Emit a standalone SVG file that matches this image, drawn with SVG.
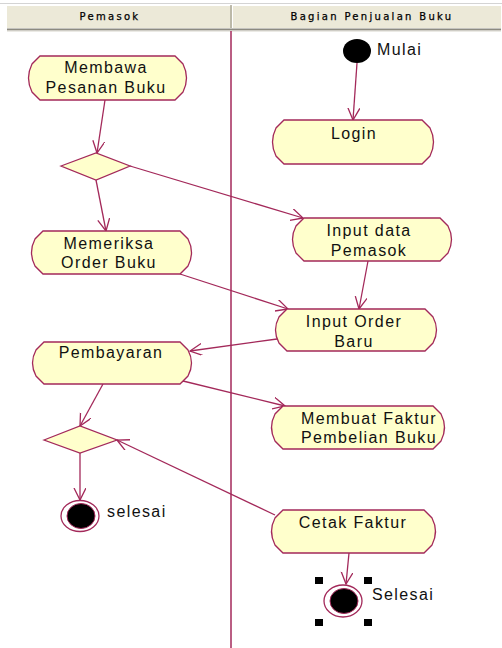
<svg xmlns="http://www.w3.org/2000/svg" width="502" height="648" viewBox="0 0 502 648">
  <style>
    .hdr { fill: #ECE9D8; }
    .hdr-text { font-family: "DejaVu Sans", Verdana, sans-serif; font-size: 10px; letter-spacing: 2.3px; fill: #000; stroke: #000; stroke-width: 0.25; text-anchor: middle; }
    .act { fill: #FFFFCC; stroke: #A3295A; stroke-width: 1.3; }
    .dec { fill: #FFFFCC; stroke: #A3295A; stroke-width: 1.3; }
    .lbl { font-family: "Liberation Sans", Arial, sans-serif; font-size: 16px; letter-spacing: 1.4px; fill: #111; text-anchor: middle; }
    .side { font-family: "Liberation Sans", Arial, sans-serif; font-size: 16px; letter-spacing: 1.4px; fill: #111; }
    .edge { fill: none; stroke: #A3295A; stroke-width: 1.3; marker-end: url(#open); }
    .lane { stroke: #A3295A; stroke-width: 1.5; }
    .handle { fill: #000; }
  </style>
  <defs>
    <marker id="open" markerUnits="userSpaceOnUse" markerWidth="14" markerHeight="14" refX="12" refY="6" orient="auto">
      <path d="M0,0 L12,6 L0,12" fill="none" stroke="#A3295A" stroke-width="1.3"/>
    </marker>
  </defs>

  <rect width="502" height="648" fill="#fff"/>

  <!-- swimlane headers -->
  <g id="lanes">
    <line x1="0" y1="3.5" x2="502" y2="3.5" stroke="#D4D4D4" stroke-width="1"/>
    <rect class="hdr" x="7" y="5" width="494" height="23"/>
    <line x1="7" y1="5.5" x2="501" y2="5.5" stroke="#FFFFFF" stroke-width="1"/>
    <line x1="231" y1="5" x2="231" y2="28" stroke="#ACA899" stroke-width="1.5"/>
    <line x1="232.5" y1="5" x2="232.5" y2="28" stroke="#FFFFFF" stroke-width="1"/>
    <line x1="7" y1="29.5" x2="501" y2="29.5" stroke="#8C8A80" stroke-width="2"/>
    <line x1="7" y1="31" x2="501" y2="31" stroke="#D8D6CC" stroke-width="1"/>
    <text class="hdr-text" x="110" y="20">Pemasok</text>
    <text class="hdr-text" x="372" y="20">Bagian Penjualan Buku</text>
    <line class="lane" x1="231" y1="31" x2="231" y2="648"/>
  </g>

  <!-- connectors -->
  <g id="connectors">
    <path class="edge" d="M357,63 L353,120"/>
    <path class="edge" d="M105,100 L97,153"/>
    <path class="edge" d="M96,180 L106,231"/>
    <path class="edge" d="M130,166 L303,218"/>
    <path class="edge" d="M368,261 L359,309"/>
    <path class="edge" d="M180,274 L288,309"/>
    <path class="edge" d="M277,339 L190,351"/>
    <path class="edge" d="M183,381 L285,406"/>
    <path class="edge" d="M103,384 L80,426"/>
    <path class="edge" d="M80,453 L80,500"/>
    <path class="edge" d="M275,515 L117,440"/>
    <path class="edge" d="M349,553 L346,584"/>
  </g>

  <!-- start -->
  <g id="start">
    <ellipse cx="357" cy="51" rx="14" ry="12" fill="#000"/>
    <text class="side" x="377" y="55">Mulai</text>
  </g>

  <!-- Pemasok lane -->
  <g id="membawa-pesanan">
    <path class="act" d="M40,56 H175 L183,64 Q190,78 183,92 L175,100 H40 L32,92 Q25,78 32,64 Z"/>
    <text class="lbl" x="106" y="73">Membawa</text>
    <text class="lbl" x="106" y="93">Pesanan Buku</text>
  </g>
  <g id="decision-1">
    <polygon class="dec" points="61,166 96,153 130,166 96,180"/>
  </g>
  <g id="memeriksa-order">
    <path class="act" d="M43,231 H180 L188,239 Q195,252.5 188,266 L180,274 H43 L35,266 Q28,252.5 35,239 Z"/>
    <text class="lbl" x="109" y="249">Memeriksa</text>
    <text class="lbl" x="109" y="268">Order Buku</text>
  </g>
  <g id="pembayaran">
    <path class="act" d="M44,342 H180 L188,350 Q195,363 188,376 L180,384 H44 L36,376 Q29,363 36,350 Z"/>
    <text class="lbl" x="111" y="358">Pembayaran</text>
  </g>
  <g id="decision-2">
    <polygon class="dec" points="44,440 80,426 117,440 80,453"/>
  </g>
  <g id="end-pemasok">
    <ellipse cx="80" cy="516" rx="19" ry="15.5" fill="#fff" stroke="#A3295A" stroke-width="1.3"/>
    <ellipse cx="81" cy="516" rx="14" ry="12.5" fill="#000" stroke="#A3295A" stroke-width="1"/>
    <text class="side" x="107" y="517">selesai</text>
  </g>

  <!-- Bagian Penjualan Buku lane -->
  <g id="login">
    <path class="act" d="M284,120 H422 L430,128 Q437,142 430,156 L422,164 H284 L276,156 Q269,142 276,128 Z"/>
    <text class="lbl" x="354" y="139">Login</text>
  </g>
  <g id="input-data-pemasok">
    <path class="act" d="M304,218 H440 L448,226 Q455,239.5 448,253 L440,261 H304 L296,253 Q289,239.5 296,226 Z"/>
    <text class="lbl" x="369" y="236">Input data</text>
    <text class="lbl" x="369" y="256">Pemasok</text>
  </g>
  <g id="input-order-baru">
    <path class="act" d="M287,309 H425 L433,317 Q440,330 433,343 L425,351 H287 L279,343 Q272,330 279,317 Z"/>
    <text class="lbl" x="354" y="327">Input Order</text>
    <text class="lbl" x="354" y="347">Baru</text>
  </g>
  <g id="membuat-faktur">
    <path class="act" d="M283,406 H433 L441,414 Q448,427.5 441,441 L433,449 H283 L275,441 Q268,427.5 275,414 Z"/>
    <text class="lbl" x="369" y="424">Membuat Faktur</text>
    <text class="lbl" x="369" y="443">Pembelian Buku</text>
  </g>
  <g id="cetak-faktur">
    <path class="act" d="M283,510 H424 L432,518 Q439,531.5 432,545 L424,553 H283 L275,545 Q268,531.5 275,518 Z"/>
    <text class="lbl" x="353" y="528">Cetak Faktur</text>
  </g>
  <g id="end-penjualan">
    <ellipse cx="343" cy="601" rx="19" ry="16" fill="#fff" stroke="#A3295A" stroke-width="1.3"/>
    <ellipse cx="344" cy="601" rx="14" ry="12.5" fill="#000" stroke="#A3295A" stroke-width="1"/>
    <rect class="handle" x="315" y="577" width="8" height="7"/>
    <rect class="handle" x="364" y="577" width="8" height="7"/>
    <rect class="handle" x="315" y="619" width="8" height="7"/>
    <rect class="handle" x="364" y="619" width="8" height="7"/>
    <text class="side" x="372" y="600">Selesai</text>
  </g>
</svg>
